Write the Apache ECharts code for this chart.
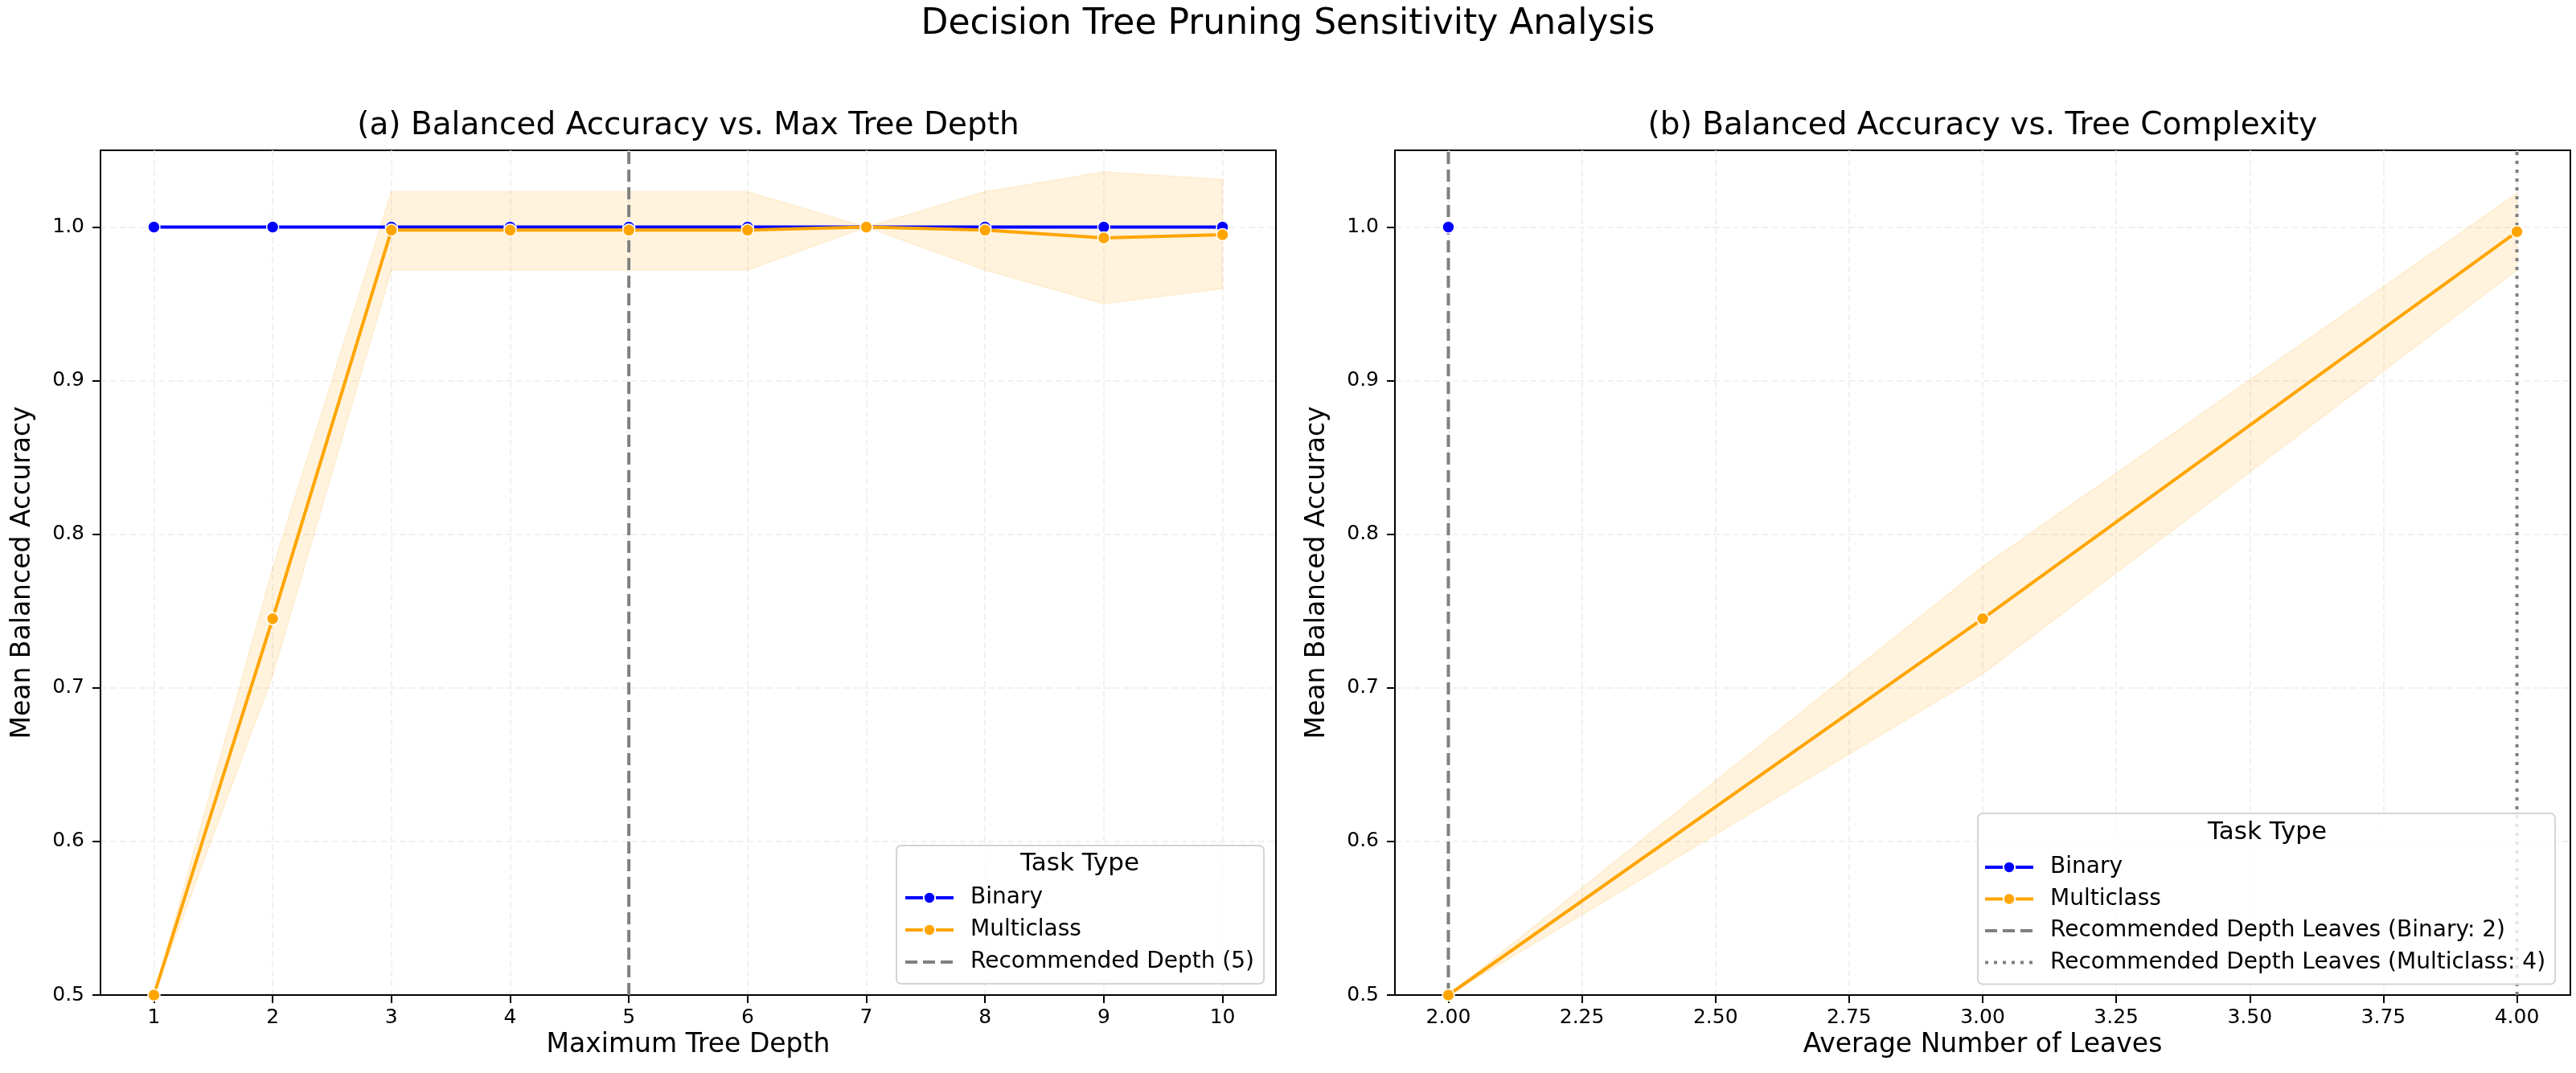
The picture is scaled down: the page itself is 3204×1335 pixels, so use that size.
<!DOCTYPE html>
<html>
<head>
<meta charset="utf-8">
<title>Decision Tree Pruning Sensitivity Analysis</title>
<script src="https://cdn.jsdelivr.net/npm/echarts@6/dist/echarts.min.js"></script>
<style>
    html, body { margin: 0; padding: 0; background: #fff; }
    #chart { width: 3204px; height: 1335px; }
</style>
</head>
<body>
<div id="chart"></div>
<script>
// (a) 按最大深度
var depths = [1, 2, 3, 4, 5, 6, 7, 8, 9, 10];
var binaryByDepth = [1.0, 1.0, 1.0, 1.0, 1.0, 1.0, 1.0, 1.0, 1.0, 1.0];
var multiByDepth = [0.5, 0.745, 0.998, 0.998, 0.998, 0.998, 1.0, 0.998, 0.993, 0.995];
var multiDepthLow = [0.5, 0.708, 0.972, 0.972, 0.972, 0.972, 1.0, 0.972, 0.950, 0.960];
var multiDepthHigh = [0.5, 0.778, 1.023, 1.023, 1.023, 1.023, 1.0, 1.023, 1.036, 1.031];
var recDepth = 5;

// (b) 按平均叶子数
var binaryLeaves = [2];
var binaryByLeaves = [1.0];
var multiLeaves = [2, 3, 4];
var multiByLeaves = [0.5, 0.745, 0.997];
var multiLeavesLow = [0.5, 0.709, 0.972];
var multiLeavesHigh = [0.5, 0.779, 1.022];
var recLeavesBinary = 2;
var recLeavesMulti = 4;

// 刻度
var depthTicks = [1, 2, 3, 4, 5, 6, 7, 8, 9, 10];
var leafTicks = [2, 2.25, 2.5, 2.75, 3, 3.25, 3.5, 3.75, 4];
var accTicks = [0.5, 0.6, 0.7, 0.8, 0.9, 1.0];

var font = 'DejaVu Sans';
var blue = '#0000ff';
var orange = '#ffa500';
var gray = '#808080';
var yMin = 0.5, yMax = 1.05;

function zip(xs, ys) {
    var out = [];
    for (var i = 0; i < xs.length; i++) out.push([xs[i], ys[i]]);
    return out;
}

function zip3(xs, a, b) {
    var out = [];
    for (var i = 0; i < xs.length; i++) out.push([xs[i], a[i], b[i]]);
    return out;
}

// 置信区间带，一个多边形
function bandSeries(idx, xs, lo, hi) {
    return {
        type: 'custom',
        xAxisIndex: idx,
        yAxisIndex: idx,
        clip: true,
        silent: true,
        z: 1,
        data: zip3(xs, lo, hi),
        encode: { x: 0, y: [1, 2] },
        renderItem: function (params, api) {
            if (params.dataIndex !== 0) return;
            var pts = [];
            for (var i = 0; i < xs.length; i++) pts.push(api.coord([xs[i], hi[i]]));
            for (var j = xs.length - 1; j >= 0; j--) pts.push(api.coord([xs[j], lo[j]]));
            return {
                type: 'polygon',
                shape: { points: pts },
                style: { fill: 'rgba(255,165,0,0.13)', stroke: 'rgba(255,165,0,0.13)', lineWidth: 1.5 }
            };
        }
    };
}

function lineSeries(idx, name, color, xs, ys) {
    return {
        name: name,
        type: 'line',
        xAxisIndex: idx,
        yAxisIndex: idx,
        z: 3,
        symbol: 'circle',
        symbolSize: 15,
        showSymbol: true,
        clip: false,
        lineStyle: { color: color, width: 4 },
        itemStyle: { color: color, borderColor: '#fff', borderWidth: 1.5 },
        data: zip(xs, ys)
    };
}

function vLine(idx, name, x, dash) {
    return {
        name: name,
        type: 'line',
        xAxisIndex: idx,
        yAxisIndex: idx,
        z: 2,
        symbol: 'none',
        lineStyle: { color: gray, width: 4, type: dash },
        itemStyle: { color: gray },
        data: [[x, yMin], [x, yMax]]
    };
}

var gridLine = { show: true, lineStyle: { color: '#ededed', type: [8, 4], width: 1.5 } };

function xAxisOpt(idx, min, max, ticks, name, digits) {
    return {
        type: 'value',
        gridIndex: idx,
        min: min,
        max: max,
        name: name,
        nameLocation: 'middle',
        nameGap: 46,
        nameTextStyle: { fontSize: 33, color: '#000', fontFamily: font },
        axisLine: { show: true, onZero: false, lineStyle: { color: '#000', width: 2 } },
        axisTick: { show: true, customValues: ticks, length: 10, lineStyle: { color: '#000', width: 2 } },
        axisLabel: {
            customValues: ticks, margin: 16, fontSize: 25, color: '#000', fontFamily: font,
            formatter: function (v) { return v.toFixed(digits); }
        },
        splitLine: gridLine
    };
}

function yAxisOpt(idx) {
    return {
        type: 'value',
        gridIndex: idx,
        min: yMin,
        max: yMax,
        name: 'Mean Balanced Accuracy',
        nameLocation: 'middle',
        nameGap: 80,
        nameTextStyle: { fontSize: 33, color: '#000', fontFamily: font },
        axisLine: { show: true, onZero: false, lineStyle: { color: '#000', width: 2 } },
        axisTick: { show: true, customValues: accTicks, length: 10, lineStyle: { color: '#000', width: 2 } },
        axisLabel: {
            customValues: accTicks, margin: 20, fontSize: 25, color: '#000', fontFamily: font,
            formatter: function (v) { return v.toFixed(1); }
        },
        splitLine: gridLine
    };
}

function legendOpt(left, top, pad, gap, names) {
    return {
        orient: 'vertical',
        left: left,
        top: top,
        padding: pad,
        itemGap: gap,
        itemWidth: 60,
        itemHeight: 18,
        selectedMode: false,
        backgroundColor: 'rgba(255,255,255,0.8)',
        borderColor: '#d4d4d4',
        borderWidth: 2,
        borderRadius: 6,
        lineStyle: { width: 4 },
        textStyle: { fontSize: 28, lineHeight: 28, color: '#000', fontFamily: font, padding: [0, 0, 0, 16] },
        data: names
    };
}

var hideDot = { color: 'rgba(0,0,0,0)', borderWidth: 0 };

var myChart = echarts.init(document.getElementById('chart'));

var option = {
    animation: false,
    backgroundColor: '#fff',
    title: {
        text: 'Decision Tree Pruning Sensitivity Analysis',
        left: 'center',
        top: 4,
        textStyle: { fontSize: 44, fontWeight: 'normal', color: '#000', fontFamily: font }
    },
    graphic: [
        { type: 'text', x: 856, y: 157, style: { text: '(a) Balanced Accuracy vs. Max Tree Depth', align: 'center', verticalAlign: 'middle', font: '39px "DejaVu Sans"', fill: '#000' } },
        { type: 'text', x: 2466, y: 157, style: { text: '(b) Balanced Accuracy vs. Tree Complexity', align: 'center', verticalAlign: 'middle', font: '39px "DejaVu Sans"', fill: '#000' } },
        { type: 'text', x: 1343, y: 1075, z: 100, style: { text: 'Task Type', align: 'center', verticalAlign: 'middle', font: '31px "DejaVu Sans"', fill: '#000' } },
        { type: 'text', x: 2820, y: 1036, z: 100, style: { text: 'Task Type', align: 'center', verticalAlign: 'middle', font: '31px "DejaVu Sans"', fill: '#000' } }
    ],
    legend: [
        legendOpt(1115, 1052, [51, 12, 13, 9], 12, [
            { name: 'Binary' },
            { name: 'Multiclass' },
            { name: 'Recommended Depth (5)', itemStyle: hideDot }
        ]),
        legendOpt(2460, 1012, [53, 12, 13, 7], 11.5, [
            { name: 'Binary' },
            { name: 'Multiclass' },
            { name: 'Recommended Depth Leaves (Binary: 2)', itemStyle: hideDot },
            { name: 'Recommended Depth Leaves (Multiclass: 4)', itemStyle: hideDot }
        ])
    ],
    grid: [
        { left: 125, top: 187, width: 1462, height: 1051, show: true, borderColor: '#000', borderWidth: 2, backgroundColor: 'transparent' },
        { left: 1735, top: 187, width: 1462, height: 1051, show: true, borderColor: '#000', borderWidth: 2, backgroundColor: 'transparent' }
    ],
    xAxis: [
        xAxisOpt(0, 0.55, 10.45, depthTicks, 'Maximum Tree Depth', 0),
        xAxisOpt(1, 1.9, 4.1, leafTicks, 'Average Number of Leaves', 2)
    ],
    yAxis: [yAxisOpt(0), yAxisOpt(1)],
    series: [
        bandSeries(0, depths, multiDepthLow, multiDepthHigh),
        vLine(0, 'Recommended Depth (5)', recDepth, [15, 7]),
        lineSeries(0, 'Binary', blue, depths, binaryByDepth),
        lineSeries(0, 'Multiclass', orange, depths, multiByDepth),

        bandSeries(1, multiLeaves, multiLeavesLow, multiLeavesHigh),
        vLine(1, 'Recommended Depth Leaves (Binary: 2)', recLeavesBinary, [15, 7]),
        vLine(1, 'Recommended Depth Leaves (Multiclass: 4)', recLeavesMulti, [4, 7]),
        lineSeries(1, 'Binary', blue, binaryLeaves, binaryByLeaves),
        lineSeries(1, 'Multiclass', orange, multiLeaves, multiByLeaves)
    ]
};

myChart.setOption(option);
</script>
</body>
</html>
